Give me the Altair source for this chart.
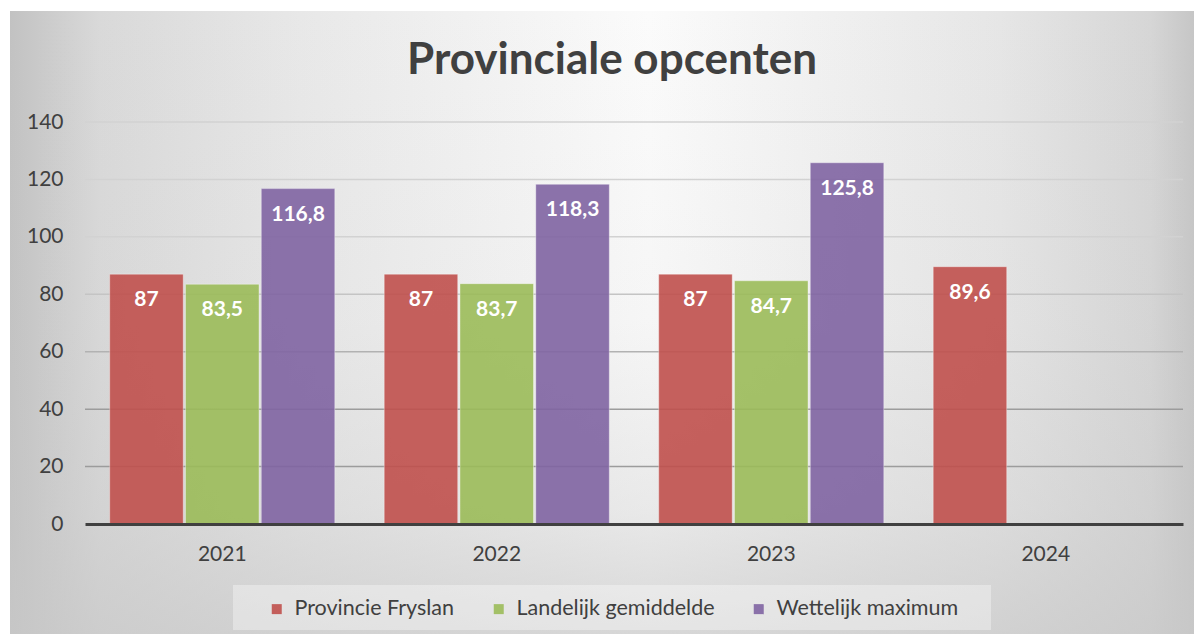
import altair as alt
import pandas as pd

# ---- data ----
title_text = "Provinciale opcenten"
years = ["2021", "2022", "2023", "2024"]
series = ["Provincie Fryslan", "Landelijk gemiddelde", "Wettelijk maximum"]
fryslan = [87, 87, 87, 89.6]
landelijk = [83.5, 83.7, 84.7, None]
maximum = [116.8, 118.3, 125.8, None]
colors = ["#C0504D", "#9BBB59", "#8064A2"]
y_ticks = [0, 20, 40, 60, 80, 100, 120, 140]

rows = []
for s, vals in zip(series, [fryslan, landelijk, maximum]):
    for y, v in zip(years, vals):
        if v is None:
            continue
        lab = (f"{v:g}").replace(".", ",")
        rows.append({"jaar": y, "reeks": s, "waarde": v, "label": lab})
df = pd.DataFrame(rows)
grid_df = pd.DataFrame({"tick": y_ticks[1:]})

W, H = 1098, 402
PAD = {"left": 77, "top": 114, "right": 11, "bottom": 110}

one = pd.DataFrame({"a": [0]})

# background: horizontal gradient
bg_h = alt.Chart(one).mark_rect(
    color={
        "gradient": "linear", "x1": 0, "y1": 0, "x2": 1, "y2": 0,
        "stops": [
            {"offset": 0.0, "color": "#c2c2c2"},
            {"offset": 0.076, "color": "#d9d9d9"},
            {"offset": 0.245, "color": "#e8e8e8"},
            {"offset": 0.54, "color": "#fbfbfb"},
            {"offset": 0.836, "color": "#e6e6e6"},
            {"offset": 0.963, "color": "#d6d6d6"},
            {"offset": 1.0, "color": "#c6c6c6"},
        ],
    }
).encode(x=alt.value(-75), x2=alt.value(W + PAD["right"]),
         y=alt.value(-111), y2=alt.value(H + PAD["bottom"]))

# background: vertical darkening overlay
bg_v = alt.Chart(one).mark_rect(
    color={
        "gradient": "linear", "x1": 0, "y1": 0, "x2": 0, "y2": 1,
        "stops": [
            {"offset": 0.0, "color": "rgba(200,200,200,0)"},
            {"offset": 0.5, "color": "rgba(200,200,200,0.1)"},
            {"offset": 0.8, "color": "rgba(200,200,200,0.35)"},
            {"offset": 1.0, "color": "rgba(200,200,200,0.7)"},
        ],
    }
).encode(x=alt.value(-75), x2=alt.value(W + PAD["right"]),
         y=alt.value(-111), y2=alt.value(H + PAD["bottom"]))

# legend box
legend_box = alt.Chart(one).mark_rect(color="#ffffff", opacity=0.35).encode(
    x=alt.value(148), x2=alt.value(906), y=alt.value(463), y2=alt.value(508)
)

y_scale = alt.Scale(domain=[0, 140], nice=False)
y_axis = alt.Axis(values=y_ticks, labelFontSize=21, labelColor="#404040",
                  ticks=False, domain=False, labelPadding=22, grid=False,
                  zindex=2)

# gridlines (drawn above the background, below the bars)
grid = alt.Chart(grid_df).transform_calculate(
    gc="datum.tick <= 40 ? '#9c9c9c' : datum.tick <= 60 ? '#b2b2b2' : datum.tick <= 80 ? '#c4c4c4' : '#d2d2d2'"
).mark_rule(strokeWidth=1.5).encode(
    y=alt.Y("tick:Q", scale=y_scale, axis=y_axis, title=None),
    stroke=alt.Stroke("gc:N", scale=None, legend=None),
)

x_enc = alt.X(
    "jaar:N", sort=years, title=None,
    scale=alt.Scale(domain=years, paddingInner=0.18, paddingOuter=0.09),
    axis=alt.Axis(labelAngle=0, labelFontSize=21, labelColor="#404040",
                  ticks=False, labelPadding=19, domainColor="#404040",
                  domainWidth=3, grid=False, zindex=2),
)
xoff = alt.XOffset("reeks:N", sort=series,
                   scale=alt.Scale(domain=series, paddingInner=0.03, paddingOuter=0))

bars = alt.Chart(df).mark_bar(fillOpacity=0.9, stroke="#ffffff",
                              strokeOpacity=0.35, strokeWidth=1).encode(
    x=x_enc,
    xOffset=xoff,
    y=alt.Y("waarde:Q", scale=y_scale, axis=y_axis, title=None),
    fill=alt.Fill(
        "reeks:N", sort=series,
        scale=alt.Scale(domain=series, range=colors),
        legend=alt.Legend(
            title=None, orient="none", direction="horizontal",
            legendX=181, legendY=476, symbolType="square", symbolSize=100,
            symbolStrokeWidth=0, symbolOpacity=0.9, labelFontSize=21.5,
            labelColor="#404040", labelOffset=7, columnPadding=33, padding=0,
            labelLimit=400, zindex=2,
        ),
    ),
)

labels = alt.Chart(df).mark_text(
    color="white", fontWeight="bold", fontSize=21, baseline="middle", dy=26
).encode(
    x=alt.X("jaar:N", sort=years),
    xOffset=alt.XOffset("reeks:N", sort=series),
    y=alt.Y("waarde:Q"),
    text="label:N",
)

chart = alt.layer(bg_h, bg_v, legend_box, grid, bars, labels).properties(
    width=W, height=H,
    padding=PAD,
    autosize=alt.AutoSizeParams(type="none"),
    title=alt.TitleParams(
        title_text, fontSize=44, fontWeight="bold",
        color="#404040", font="Lato", anchor="middle", dx=-22,
        baseline="alphabetic", offset=45, dy=152, frame="group", zindex=2,
    ),
).configure(
    font="Lato",
    background="white",
).configure_view(stroke=None)

chart.save("out.html", embed_options={"renderer": "svg", "actions": False})
